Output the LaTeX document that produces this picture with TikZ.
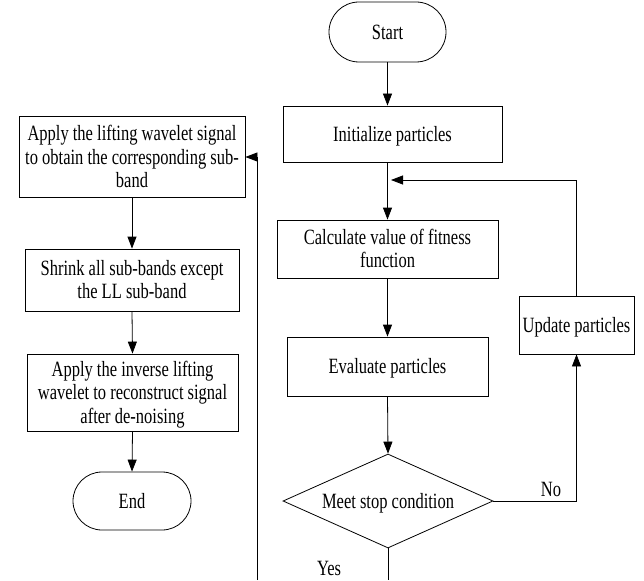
\documentclass[tikz,border=0pt]{standalone}
\usepackage{fontspec}
\usepackage{graphicx}
\setmainfont{Liberation Serif}
\usetikzlibrary{shapes.geometric,shapes.misc,arrows.meta}
\newcommand{\tx}[1]{\raisebox{-2.5pt}[\height][\depth]{\scalebox{1}[1.32]{\begin{tabular}{@{}c@{}}#1\end{tabular}}}}
\begin{document}
\begin{tikzpicture}[x=1pt,y=-1pt,
  every node/.style={font=\fontsize{16.5}{17.8}\selectfont, align=center, inner sep=0pt},
  box/.style={draw, line width=0.8pt, rectangle},
  term/.style={draw, line width=0.8pt, rounded rectangle},
  dec/.style={draw, line width=0.8pt, diamond, aspect=2.23},
  arr/.style={line width=0.8pt, -{Triangle[length=12pt,width=9pt]}},
  ln/.style={line width=0.8pt}]
\useasboundingbox (0,0) rectangle (644,580);
% right column
\node[term, minimum width=117pt, minimum height=60pt] (start) at (387.5,32) {\tx{Start}};
\node[box, minimum width=219pt, minimum height=56pt] (init) at (392.5,134) {\tx{Initialize particles}};
\node[box, minimum width=221pt, minimum height=58pt] (calc) at (387.5,249) {\tx{Calculate value of fitness\\function}};
\node[box, minimum width=201pt, minimum height=59pt] (eval) at (387.5,366.5) {\tx{Evaluate particles}};
\node[dec, minimum width=210pt, minimum height=94pt] (dia) at (388,501) {\tx{Meet stop condition}};
\node[box, minimum width=115pt, minimum height=58pt] (upd) at (576.5,325) {\tx{Update particles}};
% left column
\node[box, minimum width=226pt, minimum height=81pt] (b1) at (132,157) {\tx{Apply the lifting wavelet signal\\to obtain the corresponding sub-\\band}};
\node[box, minimum width=214pt, minimum height=62pt] (b2) at (132,280) {\tx{Shrink all sub-bands except\\the LL sub-band}};
\node[box, minimum width=211pt, minimum height=77pt] (b3) at (132.5,392.5) {\tx{Apply the inverse lifting\\wavelet to reconstruct signal\\after de-noising}};
\node[term, minimum width=118pt, minimum height=58pt] (end) at (132,501) {\tx{End}};
% labels
\node (no) at (551,489) {\tx{No}};
\node (yes) at (329,568) {\tx{Yes}};
% coordinates
\coordinate (loopin) at (391,180);
\coordinate (loopcorner) at (576.5,180);
\coordinate (yesend) at (388,580);
\coordinate (lbot) at (257,580);
\coordinate (ltop) at (257,157);
% connectors
\draw[arr] (start.south) -- (start.south |- init.north);
\draw[arr] (start.south |- init.south) -- (start.south |- calc.north);
\draw[arr] (start.south |- calc.south) -- (start.south |- eval.north);
\draw[arr] (start.south |- eval.south) -- (dia.north);
\draw[arr] (dia.east) -| (upd.south);
\draw[arr] (upd.north) -- (loopcorner) -- (loopin);
\draw[ln] (dia.south) -- (yesend);
\draw[arr] (lbot) -- (ltop) -- (b1.east);
\draw[arr] (b1.south) -- (b2.north);
\draw[arr] (b2.south) -- (b3.north);
\draw[arr] (b3.south) -- (end.north);
\end{tikzpicture}
\end{document}
